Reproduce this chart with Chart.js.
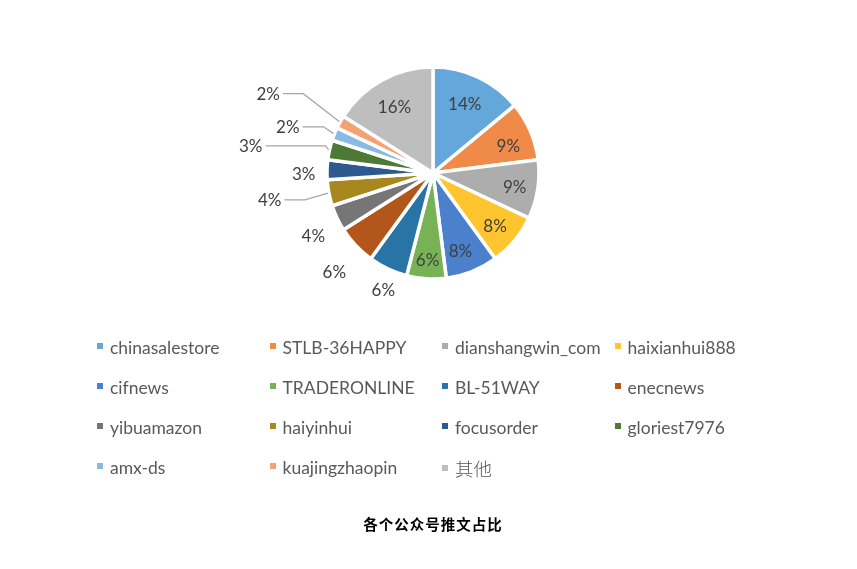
<!DOCTYPE html>
<html>
<head>
<meta charset="utf-8">
<script src="https://cdn.jsdelivr.net/npm/chart.js@4.4.1/dist/chart.umd.min.js"></script>
<style>
  html, body { margin: 0; padding: 0; background: #ffffff; }
  #wrap { position: relative; width: 857px; height: 569px; overflow: hidden; }
  #c { position: absolute; left: 0; top: 0; }
  #legend { position: absolute; left: 97px; top: 336px; width: 720px; }
  .item { position: absolute; font-family: Lato, "Noto Sans CJK SC", sans-serif; font-size: 17.5px; color: #595959; white-space: nowrap; line-height: 24px; }
  .cjk { font-family: "Noto Sans CJK SC", sans-serif; font-weight: 300; font-size: 18.5px; }
  .box { display: inline-block; width: 6px; height: 6px; margin-right: 7px; vertical-align: 5px; }
  #title { position: absolute; left: 0; width: 866px; top: 513px; text-align: center; font-family: "Noto Sans CJK SC", sans-serif; font-weight: bold; font-size: 14.5px; color: #000; letter-spacing: 1px; }
</style>
</head>
<body>
<div id="wrap">
  <canvas id="c" width="857" height="569"></canvas>
  <div id="legend"></div>
  <div id="title">各个公众号推文占比</div>
</div>
<script>
const categories = ['chinasalestore', 'STLB-36HAPPY', 'dianshangwin_com', 'haixianhui888', 'cifnews', 'TRADERONLINE', 'BL-51WAY', 'enecnews', 'yibuamazon', 'haiyinhui', 'focusorder', 'gloriest7976', 'amx-ds', 'kuajingzhaopin', '其他'];
const shares = [14, 9, 9, 8, 8, 6, 6, 6, 4, 4, 3, 3, 2, 2, 16];
const colors = ['#64A7DB', '#F08A48', '#ADADAD', '#FFC52E', '#4A80CC', '#77B356', '#2874A6', '#B2561C', '#767676', '#A8871E', '#2C5A8E', '#4C7A36', '#88BBE4', '#F4A271', '#BEBEBE'];

// label placement (radius factor, angle delta in degrees, leader line)
const labelPlacement = [
  {k: 0.73, da: -1}, {k: 0.76, da: 2.5}, {k: 0.78, da: 0}, {k: 0.76, da: 0}, {k: 0.77, da: 2},
  {k: 0.81, da: 0}, {k: 1.19, da: -2}, {k: 1.31, da: -1.5}, {k: 1.27, da: -2}, {k: 1.56, da: 1.8, line: true, elbow: 23},
  {k: 1.22, da: -1.8}, {k: 1.74, da: -3.8, line: true, elbow: 3}, {k: 1.44, da: -3.6, line: true, elbow: 10}, {k: 1.73, da: -2.8, line: true, elbow: 36},
  {k: 0.73, da: -1}
];

const legendEl = document.getElementById('legend');
categories.forEach((name, i) => {
  const d = document.createElement('div');
  d.className = 'item';
  d.style.left = ((i % 4) * 172.5) + 'px';
  d.style.top = (Math.floor(i / 4) * 40) + 'px';
  const isCjk = /[\u4e00-\u9fff]/.test(name);
  d.innerHTML = '<span class="box" style="background:' + colors[i] + '"></span>' +
    (isCjk ? '<span class="cjk">' + name + '</span>' : name);
  legendEl.appendChild(d);
});

const labelPlugin = {
  id: 'pieLabels',
  afterDatasetsDraw(chart) {
    const ctx = chart.ctx;
    const meta = chart.getDatasetMeta(0);
    ctx.save();
    ctx.font = '17px Lato, sans-serif';
    ctx.fillStyle = '#404040';
    ctx.textAlign = 'center';
    ctx.textBaseline = 'middle';
    meta.data.forEach((arc, i) => {
      const p = arc.getProps(['x', 'y', 'startAngle', 'endAngle', 'outerRadius'], true);
      const pl = labelPlacement[i];
      const mid = (p.startAngle + p.endAngle) / 2;
      const a = mid + pl.da * Math.PI / 180;
      const r = p.outerRadius * pl.k;
      const lx = p.x + Math.cos(a) * r;
      const ly = p.y + Math.sin(a) * r;
      const text = chart.data.datasets[0].data[i] + '%';
      if (pl.line) {
        const w = ctx.measureText(text).width;
        const px = p.x + Math.cos(mid) * (p.outerRadius + 1);
        const py = p.y + Math.sin(mid) * (p.outerRadius + 1);
        const sx = lx + w / 2 + 3;
        const sy = ly + 1;
        ctx.beginPath();
        ctx.strokeStyle = '#A6A6A6';
        ctx.lineWidth = 1.3;
        ctx.moveTo(sx, sy);
        ctx.lineTo(px - pl.elbow, sy);
        ctx.lineTo(px, py);
        ctx.stroke();
      }
      ctx.fillText(text, lx, ly + 2);
    });
    ctx.restore();
  }
};

new Chart(document.getElementById('c'), {
  type: 'pie',
  data: {
    labels: categories,
    datasets: [{
      data: shares,
      backgroundColor: colors,
      borderColor: '#ffffff',
      borderWidth: 3.5
    }]
  },
  options: {
    responsive: false,
    animation: false,
    radius: 106,
    layout: { padding: { top: 60, bottom: 283, left: 9, right: 0 } },
    plugins: {
      legend: { display: false },
      tooltip: { enabled: false },
      title: { display: false }
    }
  },
  plugins: [labelPlugin]
});
</script>
</body>
</html>
